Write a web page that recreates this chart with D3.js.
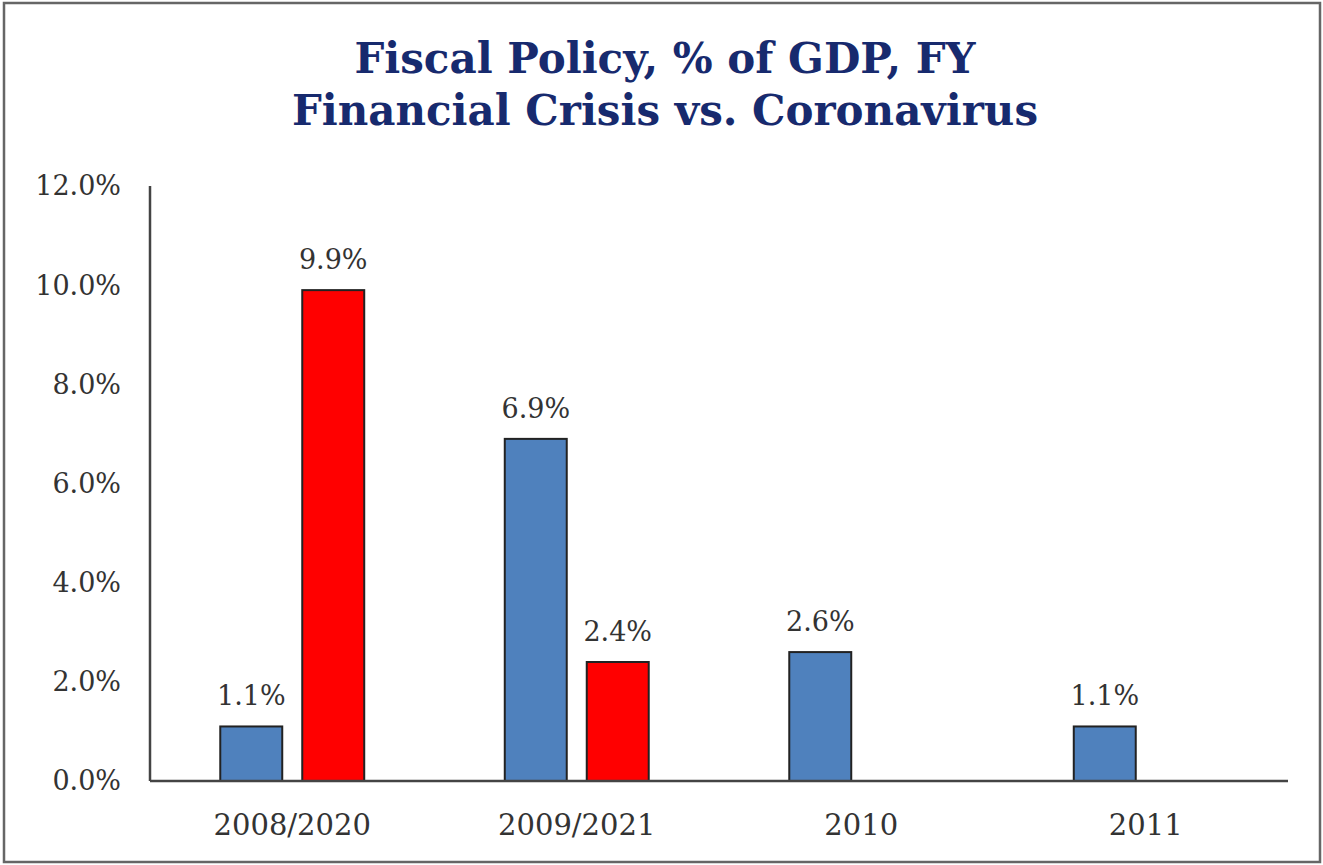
<!DOCTYPE html>
<html>
<head>
<meta charset="utf-8">
<script src="https://cdn.jsdelivr.net/npm/d3@7"></script>
<style>
  html, body { margin: 0; padding: 0; background: #fff; }
  svg { display: block; }
  text { font-family: "DejaVu Serif", "Liberation Serif", serif; }
</style>
</head>
<body>
<svg id="chart" width="1323" height="865"></svg>
<script>
// Fiscal policy support as a share of GDP, by fiscal year
const categories = ["2008/2020", "2009/2021", "2010", "2011"];
const seriesNames = ["Financial Crisis", "Coronavirus"];
const financialCrisis = [1.1, 6.9, 2.6, 1.1];
const coronavirus = [9.9, 2.4, null, null];
const yTicks = [0, 2, 4, 6, 8, 10, 12];
const titleLines = ["Fiscal Policy, % of GDP, FY", "Financial Crisis vs. Coronavirus"];

const colors = { "Financial Crisis": "#4F81BD", "Coronavirus": "#FF0000" };

const svg = d3.select("#chart");
const W = 1323, H = 865;

// outer frame
svg.append("rect")
  .attr("x", 4).attr("y", 3)
  .attr("width", W - 7).attr("height", H - 6)
  .attr("fill", "#fff").attr("stroke", "#666").attr("stroke-width", 2.5);

const plot = { left: 150, right: 1288, top: 186, bottom: 781 };

const x0 = d3.scaleBand()
  .domain(categories)
  .range([plot.left, plot.right])
  .paddingInner(0.494).paddingOuter(0.247);

const x1 = d3.scaleBand()
  .domain(seriesNames)
  .range([0, x0.bandwidth()])
  .paddingInner(0.244);

const y = d3.scaleLinear().domain([0, 12]).range([plot.bottom, plot.top]);

// title
const title = svg.append("g");
titleLines.forEach((line, i) => {
  title.append("text")
    .attr("x", 665).attr("y", 73 + i * 52)
    .attr("text-anchor", "middle")
    .attr("font-weight", "bold")
    .attr("font-size", 42)
    .attr("fill", "#172A6E")
    .text(line);
});

// y axis labels
svg.append("g").selectAll("text")
  .data(yTicks).join("text")
  .attr("x", 121).attr("y", d => y(d))
  .attr("dy", "0.35em")
  .attr("text-anchor", "end")
  .attr("font-size", 27)
  .attr("fill", "#333")
  .text(d => d3.format(".1f")(d) + "%");

// bars
const rows = categories.map((c, i) => ({
  cat: c,
  vals: [
    { s: "Financial Crisis", v: financialCrisis[i] },
    { s: "Coronavirus", v: coronavirus[i] }
  ].filter(d => d.v != null)
}));

const groups = svg.append("g").selectAll("g")
  .data(rows).join("g")
  .attr("transform", d => `translate(${x0(d.cat)},0)`);

groups.selectAll("rect")
  .data(d => d.vals).join("rect")
  .attr("x", d => x1(d.s))
  .attr("y", d => y(d.v))
  .attr("width", x1.bandwidth())
  .attr("height", d => y(0) - y(d.v))
  .attr("fill", d => colors[d.s])
  .attr("stroke", "#222")
  .attr("stroke-width", 2);

groups.selectAll("text")
  .data(d => d.vals).join("text")
  .attr("x", d => x1(d.s) + x1.bandwidth() / 2)
  .attr("y", d => y(d.v) - 21)
  .attr("text-anchor", "middle")
  .attr("font-size", 27)
  .attr("fill", "#333")
  .text(d => d3.format(".1f")(d.v) + "%");

// axes lines
svg.append("line")
  .attr("x1", plot.left).attr("x2", plot.left)
  .attr("y1", plot.top).attr("y2", plot.bottom)
  .attr("stroke", "#444").attr("stroke-width", 2.5);
svg.append("line")
  .attr("x1", plot.left).attr("x2", plot.right)
  .attr("y1", plot.bottom).attr("y2", plot.bottom)
  .attr("stroke", "#444").attr("stroke-width", 2.5);

// category labels
svg.append("g").selectAll("text")
  .data(categories).join("text")
  .attr("x", d => x0(d) + x0.bandwidth() / 2)
  .attr("y", 835)
  .attr("text-anchor", "middle")
  .attr("font-size", 29)
  .attr("fill", "#333")
  .text(d => d);
</script>
</body>
</html>
